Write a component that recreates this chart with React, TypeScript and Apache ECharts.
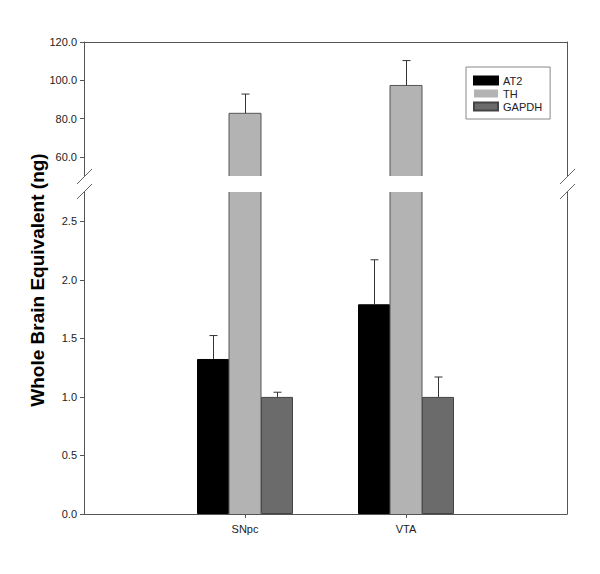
import React, { useEffect, useRef } from "react";
import * as echarts from "echarts";

// ---- data ----
const categories = ["", "SNpc", "VTA", ""];
const seriesNames = ["AT2", "TH", "GAPDH"];
const at2 = [1.324, 1.791];
const at2Err = [0.2, 0.38];
const th = [82.75, 97.3];
const thErr = [10.05, 13.0];
const gapdh = [1.0, 1.0];
const gapdhErr = [0.04, 0.17];
const lowerTicks = [0, 0.5, 1.0, 1.5, 2.0, 2.5];
const upperTicks = [60, 80, 100, 120];
const lowerMin = 0;
const lowerMax = 2.75;
const upperMin = 50;
const upperMax = 120;

const FONT = "'Liberation Sans', Arial, Helvetica, sans-serif";
const BAR_W = 32;
const colors = { AT2: "#000000", TH: "#b3b3b3", GAPDH: "#6b6b6b" };

const pad = (arr: number[]) => ["-", ...arr, "-"];
const errItems = (means: number[], errs: number[], off: number) =>
  means.map((m, i) => [i + 1, m, errs[i], off]);

function errRender(params: any, api: any) {
  const cat = api.value(0);
  const mean = api.value(1);
  const err = api.value(2);
  const off = api.value(3);
  const p0 = api.coord([cat, mean]);
  const p1 = api.coord([cat, mean + err]);
  const x = Math.round(p0[0] + off) + 0.5;
  return {
    type: "group",
    children: [
      { type: "line", shape: { x1: x, y1: p0[1], x2: x, y2: p1[1] }, style: { stroke: "#333", lineWidth: 1 } },
      { type: "line", shape: { x1: x - 4, y1: p1[1], x2: x + 4, y2: p1[1] }, style: { stroke: "#333", lineWidth: 1 } },
    ],
  };
}

function edgeRender(base: number, top: number | null, closeTop: boolean) {
  return (params: any, api: any) => {
    const cat = api.value(0);
    const mean = api.value(1);
    const pb = api.coord([cat, base]);
    const pt = api.coord([cat, top === null ? mean : top]);
    const xl = pb[0] - BAR_W / 2;
    const xr = pb[0] + BAR_W / 2;
    const pts = closeTop
      ? [[xl, pb[1]], [xl, pt[1]], [xr, pt[1]], [xr, pb[1]]]
      : null;
    if (pts) {
      return { type: "polyline", shape: { points: pts }, style: { stroke: "#555", lineWidth: 1, fill: null } };
    }
    return {
      type: "group",
      children: [
        { type: "line", shape: { x1: xl, y1: pt[1], x2: xl, y2: pb[1] }, style: { stroke: "#555", lineWidth: 1 } },
        { type: "line", shape: { x1: xr, y1: pt[1], x2: xr, y2: pb[1] }, style: { stroke: "#555", lineWidth: 1 } },
      ],
    };
  };
}

export default function App() {
  const ref = useRef<HTMLDivElement>(null);
  useEffect(() => {
    if (!ref.current) return;
    const chart = echarts.init(ref.current, null, { renderer: "svg" });
    const axisLine = { show: true, lineStyle: { color: "#555", width: 1 } };
    const labelStyle = { color: "#222", fontSize: 11, fontFamily: FONT };
    const slash = (x: number, y: number) => ({
      type: "line",
      shape: { x1: x - 7.5, y1: y + 7.5, x2: x + 7.5, y2: y - 7.5 },
      style: { stroke: "#666", lineWidth: 1 },
      z: 100,
    });
    const option: any = {
      animation: false,
      backgroundColor: "#ffffff",
      grid: [
        { left: 84, right: 33, top: 192, height: 322 },
        { left: 84, right: 33, top: 42, height: 134 },
      ],
      legend: {
        data: seriesNames,
        orient: "vertical",
        left: 466,
        top: 67,
        padding: [8, 8, 7, 7],
        itemGap: 2,
        itemWidth: 24,
        itemHeight: 8,
        icon: "rect",
        borderColor: "#888",
        borderWidth: 1,
        textStyle: { color: "#222", fontSize: 11, fontFamily: FONT },
        selectedMode: false,
      },
      xAxis: [
        {
          type: "category",
          gridIndex: 0,
          data: categories,
          boundaryGap: false,
          axisLine,
          axisTick: { show: true, length: 4, interval: (i: number) => i === 1 || i === 2, lineStyle: { color: "#555" } },
          axisLabel: { ...labelStyle, interval: 0, margin: 9 },
          splitLine: { show: false },
        },
        {
          type: "category",
          gridIndex: 1,
          data: categories,
          boundaryGap: false,
          position: "top",
          axisLine,
          axisTick: { show: false },
          axisLabel: { show: false },
          splitLine: { show: false },
        },
      ],
      yAxis: [
        {
          type: "value",
          gridIndex: 0,
          min: lowerMin,
          max: lowerMax,
          axisLine,
          axisTick: { show: true, length: 4, customValues: lowerTicks, lineStyle: { color: "#555" } },
          axisLabel: { ...labelStyle, margin: 7, customValues: lowerTicks, formatter: (v: number) => v.toFixed(1) },
          splitLine: { show: false },
        },
        {
          type: "value",
          gridIndex: 0,
          position: "right",
          min: lowerMin,
          max: lowerMax,
          axisLine,
          axisTick: { show: false },
          axisLabel: { show: false },
          splitLine: { show: false },
        },
        {
          type: "value",
          gridIndex: 1,
          min: upperMin,
          max: upperMax,
          axisLine,
          axisTick: { show: true, length: 4, customValues: upperTicks, lineStyle: { color: "#555" } },
          axisLabel: { ...labelStyle, margin: 7, customValues: upperTicks, formatter: (v: number) => v.toFixed(1) },
          splitLine: { show: false },
        },
        {
          type: "value",
          gridIndex: 1,
          position: "right",
          min: upperMin,
          max: upperMax,
          axisLine,
          axisTick: { show: false },
          axisLabel: { show: false },
          splitLine: { show: false },
        },
      ],
      series: [
        {
          name: "AT2",
          type: "bar",
          xAxisIndex: 0,
          yAxisIndex: 0,
          data: pad(at2),
          barWidth: BAR_W,
          barGap: "0%",
          clip: true,
          itemStyle: { color: colors.AT2, borderColor: "#000", borderWidth: 1 },
        },
        {
          name: "TH",
          type: "bar",
          xAxisIndex: 0,
          yAxisIndex: 0,
          data: pad(th),
          barWidth: BAR_W,
          barGap: "0%",
          clip: true,
          itemStyle: { color: colors.TH, borderWidth: 0 },
        },
        {
          name: "GAPDH",
          type: "bar",
          xAxisIndex: 0,
          yAxisIndex: 0,
          data: pad(gapdh),
          barWidth: BAR_W,
          barGap: "0%",
          clip: true,
          itemStyle: { color: colors.GAPDH, borderColor: "#444", borderWidth: 1 },
        },
        {
          name: "TH",
          type: "bar",
          xAxisIndex: 1,
          yAxisIndex: 2,
          data: pad(th),
          barWidth: BAR_W,
          clip: true,
          itemStyle: { color: colors.TH, borderWidth: 0 },
        },
        {
          name: "edgesLower",
          type: "custom",
          xAxisIndex: 0,
          yAxisIndex: 0,
          data: th.map((m, i) => [i + 1, m]),
          encode: { x: 0, y: 1 },
          renderItem: edgeRender(lowerMin, lowerMax, false),
          clip: false,
          z: 3,
        },
        {
          name: "edgesUpper",
          type: "custom",
          xAxisIndex: 1,
          yAxisIndex: 2,
          data: th.map((m, i) => [i + 1, m]),
          encode: { x: 0, y: 1 },
          renderItem: edgeRender(upperMin, null, true),
          clip: false,
          z: 3,
        },
        {
          name: "errLower",
          type: "custom",
          xAxisIndex: 0,
          yAxisIndex: 0,
          data: [...errItems(at2, at2Err, -BAR_W), ...errItems(gapdh, gapdhErr, BAR_W)],
          encode: { x: 0, y: 1 },
          renderItem: errRender,
          clip: false,
          z: 4,
        },
        {
          name: "errUpper",
          type: "custom",
          xAxisIndex: 1,
          yAxisIndex: 2,
          data: errItems(th, thErr, 0),
          encode: { x: 0, y: 1 },
          renderItem: errRender,
          clip: false,
          z: 4,
        },
      ],
      graphic: [
        slash(84.5, 176.5),
        slash(84.5, 191.5),
        slash(567.5, 176.5),
        slash(567.5, 191.5),
        {
          type: "text",
          x: 37,
          y: 280,
          rotation: Math.PI / 2,
          style: {
            text: "Whole Brain Equivalent (ng)",
            font: `bold 19px ${FONT}`,
            fill: "#000",
            textAlign: "center",
            textVerticalAlign: "middle",
          },
        },
      ],
    };
    chart.setOption(option);
    return () => chart.dispose();
  }, []);
  return (
    <div
      ref={ref}
      style={{ position: "fixed", left: 0, top: 0, width: 600, height: 574, background: "#fff" }}
    />
  );
}
